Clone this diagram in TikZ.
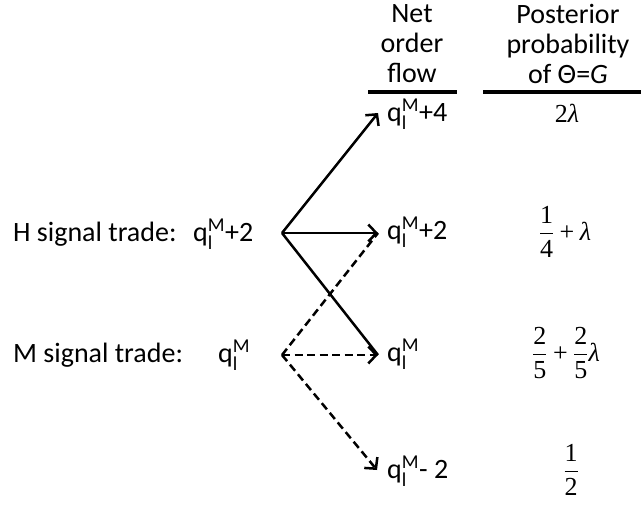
\documentclass[tikz,border=0pt]{standalone}
\usepackage{amsmath}
\usepackage{fontspec}
\setmainfont{Carlito}
\newfontfamily\tms{Liberation Serif}
\usetikzlibrary{arrows.meta}
\newcommand{\qlm}{$\text{q}_{\text{l}}^{\text{M}}$}
\newcommand{\tn}[1]{\text{\tms #1}}
\newcommand{\lam}{\text{\tms\itshape λ}}
\newcommand{\pls}{\mathbin{\text{\tms +}}}
\begin{document}
\begin{tikzpicture}[x=1pt,y=-1pt,
  lab/.style={font=\fontsize{28}{31}\selectfont, inner sep=0pt, anchor=base west},
  hdr/.style={font=\fontsize{28}{30}\selectfont, align=center, inner sep=0pt, anchor=north},
  prob/.style={font=\fontsize{26}{30}\selectfont, inner sep=0pt, anchor=base},
  rulebar/.style={line width=3.2pt},
  solidarr/.style={line width=2.5pt, -{Straight Barb[length=8pt,width=17pt,line width=2.5pt]}},
  solidline/.style={line width=2.5pt},
  dashline/.style={line width=2.5pt, dash pattern=on 8pt off 4.5pt},
  dasharr/.style={dashline, -{Straight Barb[length=8pt,width=17pt,line width=2.5pt]}}
]
\useasboundingbox (0,0) rectangle (641,506);
% headers
\node[hdr] (hnet) at (412,4) {Net\\order\\flow};
\node[hdr] (hpost) at (568,4) {Posterior\\probability\\of Θ=\textit{G}};
\draw[rulebar] (368,92) -- (457,92);
\draw[rulebar] (483,92) -- (641,92);
% left labels
\node[lab] (hT) at (13,241) {\makebox[180pt][l]{H signal trade:}\qlm+2};
\node[lab] (mT) at (13,362) {\makebox[205pt][l]{M signal trade:}\qlm};
% right labels
\node[lab] (qA) at (387,121) {\qlm+4};
\node[lab] (qB) at (387,239) {\qlm+2};
\node[lab] (qC) at (387,361) {\qlm};
\node[lab] (qD) at (387,478) {\qlm- 2};
% probabilities
\node[prob] (pA) at (567,122) {$\tn{2}\lam$};
\node[prob] (pB) at (565,240) {$\dfrac{\tn{1}}{\tn{4}}\pls\lam$};
\node[prob] (pC) at (566,361) {$\dfrac{\tn{2}}{\tn{5}}\pls\dfrac{\tn{2}}{\tn{5}}\lam$};
\node[prob] (pD) at (571,478) {$\dfrac{\tn{1}}{\tn{2}}$};
% hubs and tips
\coordinate (hH) at (282,233);
\coordinate (hM) at (282,355);
\coordinate (tA) at (378,113);
\coordinate (tB) at (378,233);
\coordinate (tC) at (378,355);
\coordinate (tD) at (377,470);
% connectors
\draw[solidarr] (hH) -- (tA);
\draw[solidarr] (hH) -- (tB);
\draw[solidline] (hH) -- (tC);
\draw[dasharr] (hM) -- (tC);
\draw[dashline] (hM) -- (tB);
\draw[dasharr] (hM) -- (tD);
\end{tikzpicture}
\end{document}
